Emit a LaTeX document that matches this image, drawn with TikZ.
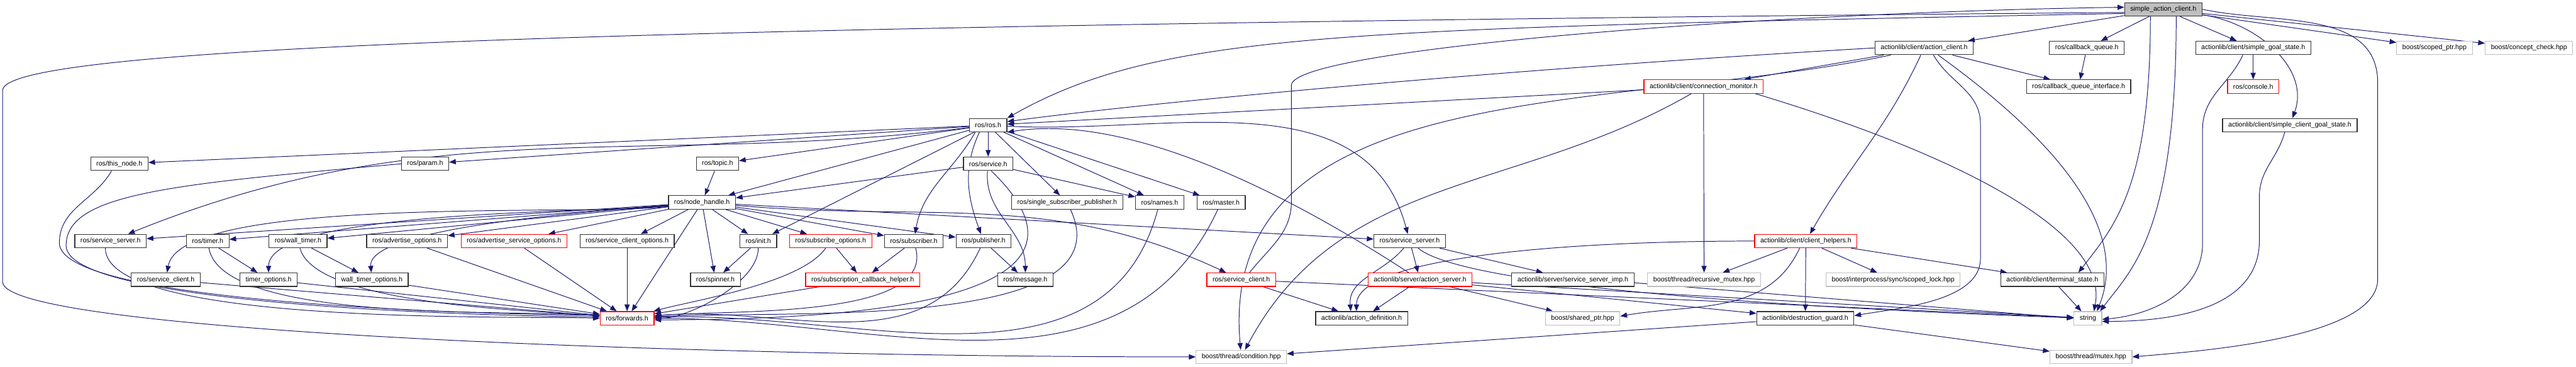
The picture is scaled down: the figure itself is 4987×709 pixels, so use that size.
\documentclass[tikz,border=0pt]{standalone}
\usepackage{fontspec}
\setmainfont{Liberation Sans}
\usepackage{tikz}
\usetikzlibrary{arrows.meta,positioning,backgrounds}
\definecolor{inclink}{RGB}{25,25,112}
\definecolor{extgray}{RGB}{191,191,191}
\tikzset{
  hdr/.style={rectangle, draw=black!80, fill=white, line width=0.35pt,
              minimum height=6.5pt, inner xsep=2.75pt, inner ysep=0pt,
              font=\fontsize{3.25}{3.9}\selectfont},
  trunc/.style={hdr, draw=red},
  ext/.style={hdr, draw=extgray},
  root/.style={hdr, fill=extgray},
  inc/.style={draw=inclink, line width=0.3pt},
}

\begin{document}
\begin{tikzpicture}[
  x=0.25pt, y=0.25pt, on grid, ->, >={Triangle[length=3.25pt, width=2.5pt]},
  every edge/.style={inc}
]
\useasboundingbox (0,0) rectangle (4987,-709);

% actionlib client side
\node[root] (sac) at (4188,-18) {simple\_action\_client.h};
\node[hdr] (acli) [below left=18.675pt and 115.75pt of sac] {actionlib/client/action\_client.h};
\node[hdr] (cbq) [right=78.75pt of acli] {ros/callback\_queue.h};
\node[hdr] (sgs) [right=80.5pt of cbq] {actionlib/client/simple\_goal\_state.h};
\node[ext] (sptr) [right=87.75pt of sgs] {boost/scoped\_ptr.hpp};
\node[ext] (cchk) [right=45.75pt of sptr] {boost/concept\_check.hpp};

\node[trunc] (conmon) [below left=18.675pt and 106.75pt of acli] {actionlib/client/connection\_monitor.h};
\node[hdr] (cbqi) [below left=18.675pt and 4pt of cbq] {ros/callback\_queue\_interface.h};
\node[trunc] (console) [below=18.675pt of sgs] {ros/console.h};

\node[hdr] (ros) [below left=18.675pt and 346.25pt of conmon] {ros/ros.h};
\node[hdr] (scgs) [below right=18.675pt and 17.75pt of console] {actionlib/client/simple\_client\_goal\_state.h};

% ros side
\node[hdr] (service) [below=18.675pt of ros] {ros/service.h};
\node[hdr] (thisnode) [left=420.5pt of service] {ros/this\_node.h};
\node[hdr] (param) [right=148pt of thisnode] {ros/param.h};
\node[hdr] (topic) [right=141.5pt of param] {ros/topic.h};

\node[hdr] (nh) [below left=18.675pt and 7.5pt of topic] {ros/node\_handle.h};
\node[hdr] (ssp) [right=176.75pt of nh] {ros/single\_subscriber\_publisher.h};
\node[hdr] (names) [right=44.75pt of ssp] {ros/names.h};
\node[hdr] (master) [right=29.75pt of names] {ros/master.h};

\node[hdr] (svserverA) [below left=18.675pt and 286.25pt of nh] {ros/service\_server.h};
\node[hdr] (timer) [right=47pt of svserverA] {ros/timer.h};
\node[hdr] (walltimer) [right=43.75pt of timer] {ros/wall\_timer.h};
\node[hdr] (advopt) [right=52.75pt of walltimer] {ros/advertise\_options.h};
\node[trunc] (advsrvopt) [right=51.75pt of advopt] {ros/advertise\_service\_options.h};
\node[hdr] (scliopt) [right=54.75pt of advsrvopt] {ros/service\_client\_options.h};
\node[hdr] (init) [right=63.5pt of scliopt] {ros/init.h};
\node[trunc] (subopt) [right=35pt of init] {ros/subscribe\_options.h};
\node[hdr] (subscriber) [right=40.25pt of subopt] {ros/subscriber.h};
\node[hdr] (publisher) [right=33.75pt of subscriber] {ros/publisher.h};
\node[hdr] (svserverB) [right=206.25pt of publisher] {ros/service\_server.h};
\node[trunc] (chelp) [right=191.75pt of svserverB] {actionlib/client/client\_helpers.h};

\node[hdr] (svclientA) [below right=18.675pt and 26.75pt of svserverA] {ros/service\_client.h};
\node[hdr] (timeropt) [right=49.75pt of svclientA] {timer\_options.h};
\node[hdr] (wtopt) [right=50pt of timeropt] {wall\_timer\_options.h};
\node[hdr] (spinner) [right=166.25pt of wtopt] {ros/spinner.h};
\node[trunc] (subcb) [right=71.25pt of spinner] {ros/subscription\_callback\_helper.h};
\node[hdr] (message) [right=78.75pt of subcb] {ros/message.h};
\node[trunc] (svclientB) [right=104.5pt of message] {ros/service\_client.h};
\node[trunc] (aserver) [right=86.5pt of svclientB] {actionlib/server/action\_server.h};
\node[hdr] (ssimp) [right=74pt of aserver] {actionlib/server/service\_server\_imp.h};
\node[ext] (rmutex) [right=63.5pt of ssimp] {boost/thread/recursive\_mutex.hpp};
\node[ext] (slock) [right=91.5pt of rmutex] {boost/interprocess/sync/scoped\_lock.hpp};
\node[hdr] (tstate) [right=77pt of slock] {actionlib/client/terminal\_state.h};

\node[trunc] (forwards) [below left=18.675pt and 42.75pt of spinner] {ros/forwards.h};
\node[hdr] (adef) [right=355.5pt of forwards] {actionlib/action\_definition.h};
\node[ext] (shptr) [right=107pt of adef] {boost/shared\_ptr.hpp};
\node[hdr] (dguard) [right=107.75pt of shptr] {actionlib/destruction\_guard.h};
\node[ext] (strg) [right=136.75pt of dguard] {string};

\node[ext] (cond) [below left=18.675pt and 58.25pt of adef] {boost/thread/condition.hpp};
\node[ext] (bmutex) [right=411.25pt of cond] {boost/thread/mutex.hpp};

% bends of the long connectors
\coordinate (loopNW) at (5,-175);
\coordinate (loopSW) at (5,-545);
\coordinate (backUp) at (2500,-390);
\coordinate (backTop) at (2500,-165);
\coordinate (mtxTop) at (4603,-160);
\coordinate (mtxLow) at (4603,-540);
\coordinate (tnBend) at (115,-470);
\coordinate (pmBend) at (128,-475);
\coordinate (dgTop) at (3834,-240);
\coordinate (dgLow) at (3834,-500);
\coordinate (sgTop) at (4264,-250);
\coordinate (sgLow) at (4264,-470);
\coordinate (cgTop) at (4374,-380);
\coordinate (cgLow) at (4374,-465);

\begin{scope}[on background layer]
% simple_action_client.h
\path
 (sac) edge (cbq)
 (sac) edge (acli)
 (sac) edge (sgs)
 (sac) edge (sptr)
 (sac) edge (cchk)
 (sac) edge[out=-8, in=70] (scgs);
\draw[inc] ([yshift=-2pt]sac.west) .. controls +(-1500,-30) and +(300,170) .. (ros.north east);
\draw[inc] ([yshift=-1.5pt]sac.west) .. controls (1200,-50) and (5,-90) .. (loopNW) -- (loopSW)
  .. controls (5,-640) and (1300,-690) .. (cond.west);
\draw[inc] ([xshift=-6.25pt]sac.south) .. controls +(0,-330) and +(70,90) .. ([xshift=-12.5pt]tstate.north east);
\draw[inc] ([xshift=6.25pt]sac.south) .. controls +(0,-420) and +(60,80) .. ([xshift=-1pt]strg.north east);
\draw[inc] (sac.east) to[out=-12, in=90] (mtxTop) -- (mtxLow) to[out=-90, in=5, looseness=0.6] (bmutex.east);
\draw[inc] ([xshift=4pt]svclientB.north) .. controls +(40,50) and +(0,-60) .. (backUp) -- (backTop)
  .. controls +(0,70) and +(-700,-10) .. ([yshift=1pt]sac.west);

% action_client.h and connection_monitor.h
\path
 (acli) edge (conmon)
 (acli) edge (cbqi)
 (acli) edge[out=-115, in=60] (chelp)
 (acli) edge[out=192, in=95] (cond)
 (conmon) edge (ros)
 (conmon) edge (rmutex)
 (conmon) edge[out=-150, in=62] (cond)
 (cbq) edge (cbqi)
 (sgs) edge (console);
\draw[inc] (acli.west) .. controls +(-700,-40) and +(300,40) .. ([yshift=1.75pt]ros.east);
\draw[inc] ([xshift=4.5pt]acli.south) to[out=-60, in=90] (dgTop) -- (dgLow) to[out=-90, in=10, looseness=0.8] ([yshift=1.25pt]dguard.east);
\draw[inc] ([xshift=6.75pt]acli.south) .. controls +(250,-180) and +(60,150) .. ([xshift=-2.5pt]strg.north east);
\draw[inc] ([xshift=25pt]conmon.south) .. controls +(400,-120) and +(30,150) .. ([xshift=-4pt]strg.north east);
\draw[inc] ([xshift=-5pt]sgs.south) to[out=-115, in=90] (sgTop) -- (sgLow) to[out=-90, in=5] ([yshift=-0.5pt]strg.east);
\draw[inc] ([xshift=-2.5pt]scgs.south) to[out=-105, in=90] (cgTop) -- (cgLow) to[out=-90, in=0] ([yshift=-1.5pt]strg.east);

% client_helpers.h and the server side
\draw[inc] (chelp.west) .. controls +(-400,0) and +(0,100) .. ([xshift=-2.5pt]adef.north);
\draw[inc] ([xshift=-5.5pt]aserver.north) .. controls +(-200,130) and +(250,40) .. (ros.south east);
\path
 (chelp) edge (rmutex)
 (chelp) edge (dguard)
 (chelp) edge (slock)
 (chelp) edge (tstate)
 ([xshift=-3pt]chelp.south) edge[out=-115, in=10] ([yshift=1pt]shptr.east)
 (tstate) edge (strg)
 (dguard) edge (bmutex)
 (dguard) edge (cond)
 (aserver) edge ([xshift=5.5pt]adef.north)
 (aserver) edge (shptr)
 (aserver) edge (strg)
 (aserver) edge (dguard)
 (svserverB) edge[out=-130, in=95] ([xshift=-5.25pt]adef.north)
 (svserverB) edge (aserver)
 (svserverB) edge (ssimp)
 (svserverB) edge[out=-40, in=178, looseness=0.3] (strg)
 ([yshift=-1.5pt]ssimp.east) edge (strg.west)
 (svclientB) edge ([xshift=-11.25pt]adef.north)
 (svclientB) edge (strg);

% ros/ros.h
\path
 (ros) edge (thisnode)
 (ros) edge (param)
 (ros) edge[out=187, in=22] (svserverA)
 (ros) edge (topic)
 (ros) edge (nh)
 (ros) edge (init)
 (ros) edge (service)
 ([xshift=3pt]ros.south west) edge[out=-120, in=80] (subscriber)
 ([xshift=5pt]ros.south west) edge[out=-115, in=110] (publisher)
 (ros) edge (ssp)
 (ros) edge (names)
 (ros) edge (master)
 (ros) edge[out=-3, in=105] (svserverB)
 (topic) edge (nh)
 (service) edge (nh)
 (service) edge (names)
 (service) edge[out=-95, in=90] (message);
\draw[inc] ([xshift=1.5pt]service.south) .. controls +(260,-250) and +(400,0) .. ([yshift=-0.75pt]forwards.east);

% ros/node_handle.h
\path
 (nh) edge (svserverA)
 (nh) edge (timer)
 (nh) edge (walltimer)
 (nh) edge[out=187, in=80, looseness=0.4] (svclientA)
 (nh) edge[out=186, in=90, looseness=0.4] (timeropt)
 (nh) edge[out=185, in=95, looseness=0.4] (wtopt)
 (nh) edge (advopt)
 (nh) edge (advsrvopt)
 (nh) edge (scliopt)
 (nh) edge (forwards)
 (nh) edge (spinner)
 (nh) edge (init)
 (nh) edge (subopt)
 (nh) edge (subscriber)
 (nh) edge (publisher)
 (nh) edge (svserverB)
 (nh) edge[out=-5, in=155] (svclientB);

% into ros/forwards.h
\draw[inc] ([xshift=-3.75pt]thisnode.south) to[out=-120, in=90] (tnBend) to[out=-90, in=180, looseness=0.3] ([yshift=1.5pt]forwards.west);
\draw[inc] (param.west) .. controls +(-450,-40) and +(0,100) .. (pmBend) to[out=-90, in=180, looseness=0.3] ([yshift=0.75pt]forwards.west);
\path
 ([xshift=-2.5pt]svserverA.south) edge[out=-90, in=178, looseness=0.4] (forwards.west)
 (svclientA) edge (forwards)
 (timer) edge (timeropt)
 (timer) edge[out=-80, in=175, looseness=0.5] (forwards)
 (walltimer) edge (wtopt)
 (walltimer) edge[out=-75, in=175, looseness=0.5] (forwards)
 (timeropt) edge (forwards)
 (wtopt) edge (forwards)
 (advopt) edge (forwards)
 (advsrvopt) edge (forwards)
 (scliopt) edge (forwards)
 (init) edge (spinner)
 (init) edge[out=-90, in=0, looseness=0.7] (forwards)
 (subopt) edge (subcb)
 (subopt) edge[out=-125, in=15, looseness=0.6] (forwards)
 (subcb) edge (forwards)
 (subscriber) edge (subcb)
 (subscriber) edge[out=-75, in=5, looseness=0.7] (forwards)
 (publisher) edge (message)
 (publisher) edge[out=-115, in=5] (forwards)
 (ssp) edge[out=-65, in=3, looseness=0.8] (forwards)
 (names) edge[out=-105, in=2] (forwards)
 (master) edge[out=-115, in=0] (forwards);
\end{scope}
\end{tikzpicture}
\end{document}
